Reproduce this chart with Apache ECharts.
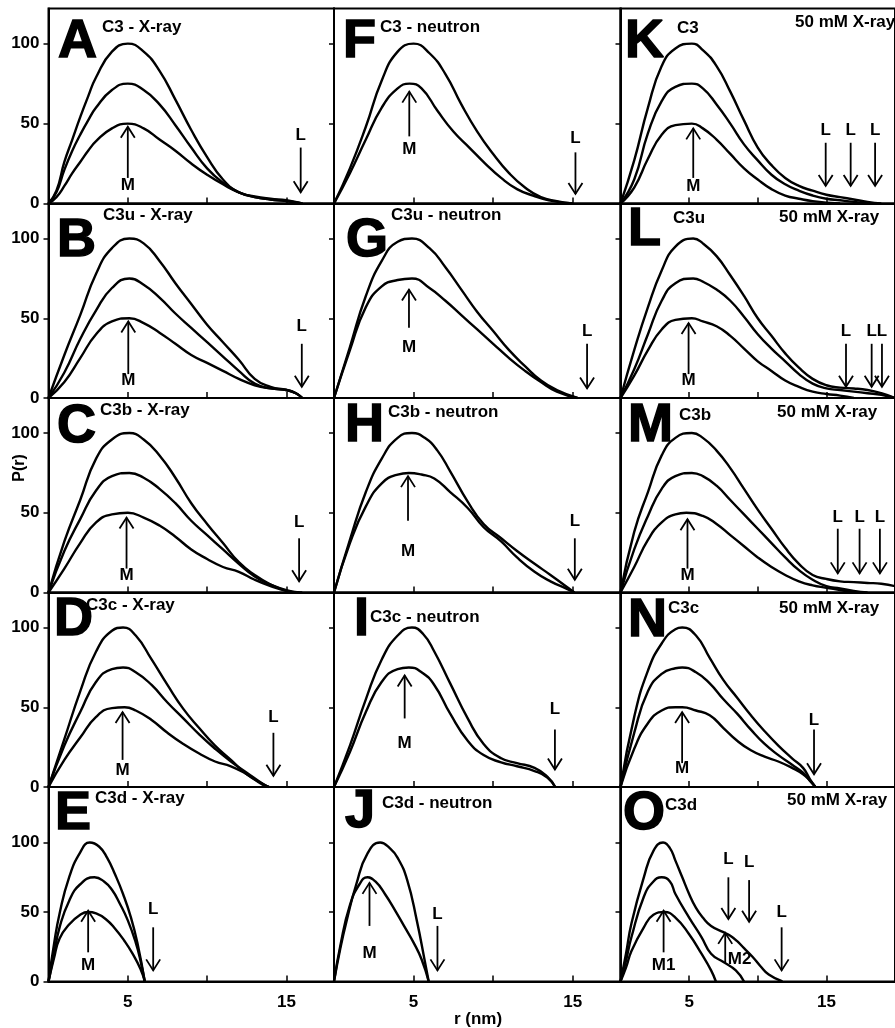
<!DOCTYPE html>
<html><head><meta charset="utf-8">
<script src="https://cdn.jsdelivr.net/npm/echarts@6/dist/echarts.min.js"></script>
<style>html,body{margin:0;padding:0;background:#fff}#c{width:895px;height:1028px}</style>
</head><body><div id="c"></div><script>
// ---------------- DATA (r in nm, P(r)) ----------------
const panelIds = ['A','B','C','D','E','F','G','H','I','J','K','L','M','N','O'];
const panelTitles = {A:'C3 - X-ray',B:'C3u - X-ray',C:'C3b - X-ray',D:'C3c - X-ray',E:'C3d - X-ray',
  F:'C3 - neutron',G:'C3u - neutron',H:'C3b - neutron',I:'C3c - neutron',J:'C3d - neutron',
  K:'C3',L:'C3u',M:'C3b',N:'C3c',O:'C3d'};
const noteText = '50 mM X-ray';
const xTickLabels = [5, 15];
const xTicks = [0, 5, 10, 15, 20];
const yTickLabels = [0, 50, 100];
const xAxisTitle = 'r (nm)';
const yAxisTitle = 'P(r)';

const A1 = [[0,0],[0.5,8],[1,26],[1.5,40],[2,54],[2.5,67],[3,79],[4,95],[5,100],[6,95],[7,83],[8,65],[9,46],[10,29],[11,15],[12,7],[13,4.5],[14,3],[15,2],[16,0]];
const A2 = [[0,0],[0.5,7],[1,21],[1.5,33],[2,43],[2.5,52],[3,60],[4,71],[5,75],[6,71],[7,62],[8,49],[9,35],[10,22],[11,13],[12,7],[13,4],[14,2.5],[15,1.5],[16,0]];
const A3 = [[0,0],[0.5,4],[1,11],[1.5,19],[2,26],[2.5,33],[3,39],[4,47],[5,50],[6,47],[7,40],[8,33],[9,25],[10,18],[11,12],[12,7],[13,4],[14,2.5],[15,1.5],[16,0]];
const arrowsA = [[5.0,16,48,'M',5.0,11.5],[15.9,35,7,'L',15.9,42.5]];

const F1 = [[0,0],[1,22],[2,48],[3,77],[4,95],[5,100],[6,94],[7,81],[8,62],[9,45],[10,31],[11,19],[12,10],[13,4],[14,1.5],[15,0]];
const F2 = [[0,0],[1,19],[2,40],[3,60],[4,72],[4.75,75],[5.5,72],[6.5,58],[7.5,45],[8.5,35],[9.5,25],[10.5,16],[11.5,9],[12.5,5],[13.5,2],[15,0]];
const arrowsF = [[4.73,42,70,'M',4.73,34],[15.17,32,6,'L',15.17,41]];

const K1 = [[0,0],[1,27],[2,60],[3,86],[4,97],[5.2,100],[6,96],[7,86],[8,70],[9,52],[10,35],[11,24],[12,16],[13,11],[14,8],[15,5.5],[16,4],[17,2.5],[18,1],[19,0]];
const K2 = [[0,0],[1,15],[2,44],[3,64],[4,73],[5.2,75],[6,72],[7,62],[8,50],[9,37],[10,27],[11,18],[12,12],[13,8],[14,5],[15,3],[16,2],[17,1],[18,0]];
const K3 = [[0,0],[1,10],[2,28],[3,43],[4,49],[5.2,50],[6,47],[7,40],[8,31],[9,22],[10,15],[11,9],[12,5],[13,3],[14,1.5],[16,0]];
const arrowsK = [[5.3,16,47,'M',5.3,11],[14.95,38,11,'L',14.95,45.5],[16.77,38,11,'L',16.77,45.5],[18.55,38,11,'L',18.55,45.5]];

const B1 = [[0,0],[1,27],[2,52],[3,78],[4,94],[5.1,100],[6,97],[7,86],[8,72],[9,59],[10,46],[11,35],[12,24],[13,12],[14,7],[15,5],[15.6,3],[16,0]];
const B2 = [[0,0],[1,16],[2,37],[3,55],[4,69],[5.1,75],[6,71],[7,63],[8,53],[9,44],[10,35],[11,26],[12,17],[13,9],[14,6],[15,5],[15.6,3],[16,0]];
const B3 = [[0,0],[1,10],[2,25],[3,40],[4,48],[5.1,50],[6,47],[7,41],[8,34],[9,27],[10,22],[11,17],[12,12],[13,8],[14,6],[15,5],[15.6,3],[16,0]];
const arrowsB = [[5.03,15,48,'M',5.03,11],[15.97,34,7,'L',15.97,45]];

const G1 = [[0,0],[1,32],[2,64],[3,86],[4,98],[4.9,100],[6,94],[7,82],[8,68],[9,54],[10,42],[11,30],[12,20],[13,11],[14,5],[15.3,0]];
const G2 = [[0,0],[1,30],[2,57],[3,70],[4,74],[4.9,75],[6,69],[7,61],[8,52],[9,43],[10,34],[11,25],[12,17],[13,10],[14,4],[15.3,0]];
const arrowsG = [[4.71,44,68,'M',4.71,32],[15.9,34,6,'L',15.9,42]];

const L1 = [[0,0],[1,30],[2,57],[3,80],[4,95],[5.3,100],[6,97],[7,89],[8,77],[9,64],[10,50],[11,39],[12,28],[13,19],[14,12],[15,8],[16,6.5],[17,6],[18,5],[19,3],[20,0]];
const L2 = [[0,0],[1,18],[2,40],[3,61],[4,72],[5.3,75],[6,73],[7,68],[8,61],[9,51],[10,40],[11,31],[12,23],[13,15],[14,9],[15,6],[16,5],[17,4],[18,3],[19,2],[20,0]];
const L3 = [[0,0],[1,14],[2,30],[3,43],[4,49],[5.2,50],[6,48],[7,45],[8,39],[9,31],[10,23],[11,17],[12,11],[13,7],[14,4],[15,2.5],[16,1.5],[17,0]];
const arrowsL = [[4.96,15,47,'M',4.96,11],[16.43,34,7,'L',16.43,42],[18.3,34,7,'L',18.3,42],[19.05,34,7,'L',19.05,42]];

const C1 = [[0,0],[1,32],[2,58],[3,84],[4,96],[5.1,100],[6,96],[7,86],[8,72],[9,56],[10,43],[11,31],[12,19],[13,11],[14,5],[15,1],[15.5,0]];
const C2 = [[0,0],[1,26],[2,46],[3,64],[4,73],[5.1,75],[6,72],[7,65],[8,56],[9,45],[10,36],[11,27],[12,18],[13,10],[14,5],[15,1.5],[15.8,0]];
const C3 = [[0,0],[1,15],[2,31],[3,44],[4,49],[5,50],[6,47],[7,42],[8,35],[9,27],[10,21],[11,16],[12,13],[13,8],[14,4],[15,1],[16,0]];
const arrowsC = [[4.92,15,47,'M',4.92,11],[15.8,34,7,'L',15.8,44]];

const H1 = [[0,0],[1,33],[2,63],[3,84],[4,97],[4.9,100],[5.7,97],[6.5,89],[7.3,76],[8.4,57],[9.4,43],[10.5,34],[11.5,26],[12.6,18],[13.6,11],[14.7,3],[15.1,0]];
const H2 = [[0,0],[1,31],[2,54],[3,68.5],[4,74],[4.7,75],[5.5,74],[6.3,71.5],[7.3,63],[8.4,53],[9.4,41],[10.5,32],[11.5,22],[12.6,13],[13.6,7],[14.7,2],[15.1,0]];
const arrowsH = [[4.65,45,73,'M',4.65,25.6],[15.13,34,8,'L',15.13,44.6]];

const M1 = [[0,0],[1,38],[2,63],[3,86],[4,97],[5.2,100],[6,97],[7,89],[8,78],[9,65],[10,52],[11,40],[12,28],[13,18],[14,11],[15,8.5],[16,7],[17,6.5],[18,6],[19,5.5],[20,4]];
const M2 = [[0,0],[1,27],[2,48],[3,65],[4,73],[5.2,75],[6,73],[7,67],[8,58],[9,49],[10,40],[11,31],[12,22],[13,14],[14,8],[15,4],[16,2.5],[17,1],[18,0]];
const M3 = [[0,0],[1,16],[2,33],[3,44],[4,49],[4.8,50],[6,48],[7,43],[8,36],[9,29],[10,22],[11,16],[12,11],[13,7],[14,4.5],[15,3],[16,1.5],[17,0]];
const arrowsM = [[4.88,15,46,'M',4.88,11],[15.83,40,12,'L',15.83,47],[17.42,40,12,'L',17.42,47],[18.9,40,12,'L',18.9,47]];

const D1 = [[0,0],[1,30],[2,60],[3,85],[4,98],[4.7,100],[5.5,95],[6.5,80],[7.5,64],[8.5,49],[9.5,37],[10.5,26],[11.5,17],[12.5,8],[13.5,2],[13.9,0]];
const D2 = [[0,0],[1,26],[2,47],[3,66],[4,74],[4.7,75],[5.5,72],[6.5,64],[7.5,53],[8.5,43],[9.5,33],[10.5,24],[11.5,16],[12.5,9],[13.5,2],[13.9,0]];
const D3 = [[0,0],[1,17],[2,31],[3,44],[4,49.5],[4.8,50],[5.5,48],[6.5,42],[7.5,34],[8.5,27],[9.5,21],[10.5,16],[11.5,13],[12.5,8],[13.5,1.5],[13.9,0]];
const arrowsD = [[4.67,17,47,'M',4.67,10.6],[14.18,34,7,'L',14.18,44]];

const I1 = [[0,0],[1,26],[2,55],[3,80],[4,95],[4.9,100],[5.6,96],[6.3,85],[7.3,65],[8.4,43],[9.4,27],[10.5,18],[11.5,15],[12.6,12],[13.4,6.5],[13.9,0]];
const I2 = [[0,0],[1,22],[2,47],[3,66],[4,74],[4.7,75],[5.5,72],[6.3,64],[7.3,46],[8.4,29],[9.4,20],[10.5,15.5],[11.5,13],[12.6,10],[13.4,6],[13.9,0]];
const arrowsI = [[4.44,43,70,'M',4.44,27.5],[13.88,36,11,'L',13.88,49]];

const N1 = [[0,0],[1,44],[2,73],[3,90],[4,99],[4.5,100],[5.5,95],[6.5,81],[7.5,67],[8.5,56],[9.5,45],[10.5,35],[11.5,26],[12.5,18],[13.3,12],[13.8,5],[14.2,0]];
const N2 = [[0,0],[1,34],[2,60],[3,71],[4,74.5],[4.5,75],[5.5,72],[6.5,65],[7.5,55],[8.5,46],[9.5,36],[10.5,27],[11.5,20],[12.5,14],[13.3,9],[13.8,4],[14.2,0]];
const N3 = [[0,0],[1,24],[2,40],[3,48],[4,50],[4.5,50],[5.5,48],[6.5,45],[7.5,37],[8.5,29],[9.5,23],[10.5,19],[11.5,16],[12.5,12],[13.3,8],[13.8,4],[14.2,0]];
const arrowsN = [[4.49,15,47,'M',4.49,12],[14.1,36,8,'L',14.1,42]];

const E1 = [[0,0],[0.35,27],[0.7,49],[1.3,75],[2,93],[2.6,100],[3.2,97],[3.7,89],[4.2,77],[4.7,63],[5.2,46],[5.6,28],[6.07,0]];
const E2 = [[0,0],[0.35,20],[0.7,39],[1.3,58],[2,70],[2.9,75],[3.5,72],[4,66],[4.5,56],[5,44],[5.5,28],[5.8,15],[6.07,0]];
const E3 = [[0,0],[0.35,17],[0.7,31],[1.3,41],[2,48],[2.5,50],[3,49],[3.6,45],[4.2,38],[4.8,29],[5.3,20],[5.8,9],[6.07,0]];
const arrowsE = [[2.5,21,51,'M',2.5,11.5],[6.6,39,8,'L',6.6,52]];

const J1 = [[0,0],[0.4,24],[0.8,44],[1.4,70],[2.1,92],[2.9,100],[3.5,96],[4,89],[4.6,73],[5.2,44],[5.7,15],[5.95,0]];
const J2 = [[0,0],[0.4,26],[1,55],[1.6,70],[2.1,75],[2.6,72],[3.2,63],[3.9,50],[4.5,38],[5,28],[5.5,16],[5.95,0]];
const arrowsJ = [[2.23,40,71,'M',2.23,20],[6.5,40,8,'L',6.5,48.7]];

const O1 = [[0,0],[0.4,20],[0.8,42],[1.7,75],[2.4,94],[3.1,100],[3.6,96],[4,87],[4.5,75],[5,63],[5.5,53],[6,46],[6.6,40],[7.5,35.5],[8,33],[8.5,29],[9,24],[9.6,18],[10.2,11],[10.8,5],[11.8,0]];
const O2 = [[0,0],[0.4,15],[0.8,32],[1.7,61],[2.4,72],[3,75],[3.6,72],[4,63],[5,46],[5.9,32],[6.6,20],[7.5,14],[8.4,8],[9,0]];
const O3 = [[0,0],[0.4,10],[0.8,22],[1.7,39],[2.4,48],[3.2,50],[4,46],[5,34],[5.9,20],[6.6,8],[6.95,0]];
const arrowsO = [[3.14,21,51,'M1',3.14,11.5],[7.63,14,35,'M2',8.68,16],[7.86,75,45,'L',7.86,88],[9.37,73,43,'L',9.37,86],[11.74,39,8,'L',11.74,50]];

const curves = {A:[A1,A2,A3],B:[B1,B2,B3],C:[C1,C2,C3],D:[D1,D2,D3],E:[E1,E2,E3],
  F:[F1,F2],G:[G1,G2],H:[H1,H2],I:[I1,I2],J:[J1,J2],
  K:[K1,K2,K3],L:[L1,L2,L3],M:[M1,M2,M3],N:[N1,N2,N3],O:[O1,O2,O3]};
const arrows = {A:arrowsA,B:arrowsB,C:arrowsC,D:arrowsD,E:arrowsE,F:arrowsF,G:arrowsG,H:arrowsH,
  I:arrowsI,J:arrowsJ,K:arrowsK,L:arrowsL,M:arrowsM,N:arrowsN,O:arrowsO};

// ---------------- LAYOUT / STYLE ----------------
const FONT = '"Liberation Sans", Arial, Helvetica, sans-serif';
const colLeft = [48.5, 334, 620.5], colWidth = [285.5, 286.5, 287], colMax = [18, 18, 20];
const rowTop = [8.5, 203.5, 398, 592.5, 787], rowHeight = [195, 194.5, 194.5, 194.5, 194.5], rowMax = [122, 122, 122, 122, 140];
const letterPos = {A:[58,42],B:[57,241],C:[57,427],D:[54,620],E:[55,814],F:[343,42],G:[346,241],H:[345,426],I:[354,620],J:[345,812],K:[625,42],L:[628,230],M:[628,426],N:[628,621],O:[623,814]};
const titlePos = {A:[102,27.5],B:[103,215],C:[100,410],D:[86,605],E:[95,798],F:[380,27.5],G:[391,215],H:[388,412],I:[370,617],J:[382,803],K:[677,28],L:[673,218],M:[679,415],N:[668,608],O:[665,805]};
const notePos = {K:[795,22.5],L:[779,217],M:[777,412],N:[779,608],O:[787,800]};

const grids = [], xAxes = [], yAxes = [], series = [], graphics = [];
panelIds.forEach((id, i) => {
  const col = Math.floor(i / 5), row = i % 5;
  grids.push({left: colLeft[col], top: rowTop[row], width: colWidth[col], height: rowHeight[row],
    show: true, borderColor: '#000', borderWidth: 2, backgroundColor: 'transparent'});
  xAxes.push({type: 'value', gridIndex: i, min: 0, max: colMax[col], interval: 5,
    axisLine: {show: true, onZero: false, lineStyle: {color: '#000', width: 2}},
    axisTick: {show: true, inside: true, length: 6, lineStyle: {color: '#000', width: 1.5},
      customValues: xTicks.filter(v => v < colMax[col])},
    axisLabel: {show: row === 4, customValues: xTickLabels,
      formatter: v => xTickLabels.includes(v) ? String(v) : '',
      color: '#000', fontSize: 17, fontWeight: 'bold', fontFamily: FONT, margin: 12},
    splitLine: {show: false}});
  yAxes.push({type: 'value', gridIndex: i, min: 0, max: rowMax[row], interval: 50,
    axisLine: {show: true, onZero: false, lineStyle: {color: '#000', width: 2}},
    axisTick: {show: true, inside: false, length: 5, lineStyle: {color: '#000', width: 1.5}, customValues: yTickLabels},
    axisLabel: {show: col === 0, customValues: yTickLabels,
      formatter: v => yTickLabels.includes(v) ? String(v) : '',
      color: '#000', fontSize: 17, fontWeight: 'bold', fontFamily: FONT, margin: 9},
    splitLine: {show: false}});
  curves[id].forEach(c => series.push({type: 'line', xAxisIndex: i, yAxisIndex: i, data: c,
    smooth: 0.5, symbol: 'none', showSymbol: false, silent: true, animation: false,
    lineStyle: {color: '#000', width: 2.4}}));
  const list = arrows[id];
  series.push({type: 'custom', xAxisIndex: i, yAxisIndex: i, silent: true, animation: false, z: 5,
    data: list.map(a => [a[0], a[1], a[2], a[4], a[5]]),
    renderItem: function (params, api) {
      const a = list[params.dataIndex];
      const tail = api.coord([a[0], a[1]]);
      const tip = api.coord([a[0], a[2]]);
      const up = a[2] > a[1];
      const wy = tip[1] + (up ? 11 : -11);
      const lp = api.coord([a[4], a[5]]);
      return {type: 'group', children: [
        {type: 'line', shape: {x1: tail[0], y1: tail[1], x2: tip[0], y2: tip[1]}, style: {stroke: '#000', lineWidth: 1.8}},
        {type: 'polyline', shape: {points: [[tip[0] - 7, wy], [tip[0], tip[1]], [tip[0] + 7, wy]]}, style: {stroke: '#000', lineWidth: 1.8, fill: null}},
        {type: 'text', x: lp[0], y: lp[1], style: {text: a[3], fill: '#000', fontSize: 17, fontWeight: 'bold', fontFamily: FONT, align: 'center', verticalAlign: 'middle'}}
      ]};
    }});
  graphics.push({type: 'text', x: letterPos[id][0], y: letterPos[id][1], z: 10,
    style: {text: id, fill: '#000', stroke: '#000', lineWidth: 1.5, fontSize: 54, fontWeight: 'bold', fontFamily: FONT, align: 'left', verticalAlign: 'middle'}});
  graphics.push({type: 'text', x: titlePos[id][0], y: titlePos[id][1], z: 10,
    style: {text: panelTitles[id], fill: '#000', fontSize: 17, fontWeight: 'bold', fontFamily: FONT, align: 'left', verticalAlign: 'middle'}});
  if (notePos[id]) graphics.push({type: 'text', x: notePos[id][0], y: notePos[id][1], z: 10,
    style: {text: noteText, fill: '#000', fontSize: 17, fontWeight: 'bold', fontFamily: FONT, align: 'left', verticalAlign: 'middle'}});
});
graphics.push({type: 'text', x: 20, y: 468, rotation: Math.PI / 2, z: 10,
  style: {text: yAxisTitle, fill: '#000', fontSize: 16, fontWeight: 'bold', fontFamily: FONT, align: 'center', verticalAlign: 'middle'}});
graphics.push({type: 'text', x: 478, y: 1019, z: 10,
  style: {text: xAxisTitle, fill: '#000', fontSize: 17, fontWeight: 'bold', fontFamily: FONT, align: 'center', verticalAlign: 'middle'}});

const chart = echarts.init(document.getElementById('c'), null, {renderer: 'canvas'});
chart.setOption({backgroundColor: '#fff', animation: false, grid: grids, xAxis: xAxes, yAxis: yAxes, series: series, graphic: graphics});
</script></body></html>
